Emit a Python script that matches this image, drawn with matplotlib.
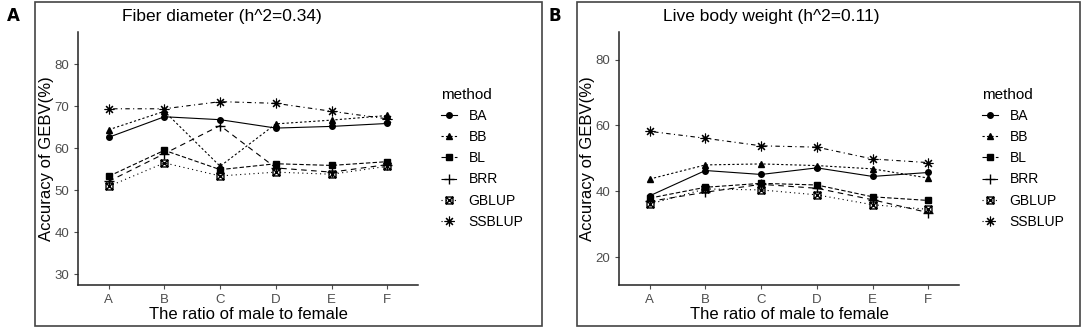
import matplotlib
matplotlib.use('Agg')
from matplotlib import pyplot as plt
from matplotlib.path import Path
from matplotlib.patches import Rectangle
from matplotlib.lines import Line2D

ratios = ['A', 'B', 'C', 'D', 'E', 'F']
methods = ['BA', 'BB', 'BL', 'BRR', 'GBLUP', 'SSBLUP']

fiber = {
    'BA': [62.6, 67.5, 66.8, 64.8, 65.2, 65.9],
    'BB': [64.4, 68.8, 55.7, 65.8, 66.7, 67.8],
    'BL': [53.3, 59.5, 54.9, 56.3, 55.9, 56.8],
    'BRR': [52.1, 58.7, 65.4, 55.3, 54.3, 56.1],
    'GBLUP': [50.9, 56.5, 53.4, 54.3, 53.8, 55.7],
    'SSBLUP': [69.4, 69.4, 71.1, 70.7, 68.8, 67.0],
}

weight = {
    'BA': [38.6, 46.3, 45.1, 47.1, 44.5, 45.7],
    'BB': [43.7, 48.0, 48.3, 47.8, 46.8, 44.0],
    'BL': [37.9, 41.2, 42.4, 41.9, 38.3, 37.2],
    'BRR': [36.9, 39.7, 42.1, 40.9, 37.4, 33.5],
    'GBLUP': [36.1, 40.7, 40.4, 38.9, 35.9, 34.5],
    'SSBLUP': [58.2, 56.1, 53.8, 53.4, 49.8, 48.7],
}

# square with a cross inside (ggplot shape 7)
sq_cross = Path(
    [(-1, -1), (1, -1), (1, 1), (-1, 1), (-1, -1), (-1, -1), (1, 1), (-1, 1), (1, -1)],
    [Path.MOVETO, Path.LINETO, Path.LINETO, Path.LINETO, Path.CLOSEPOLY,
     Path.MOVETO, Path.LINETO, Path.MOVETO, Path.LINETO])

styles = {
    'BA': dict(ls='-', marker='o', ms=4),
    'BB': dict(dashes=(2, 2), marker='^', ms=4.5),
    'BL': dict(dashes=(4, 2), marker='s', ms=4),
    'BRR': dict(dashes=(5, 4), marker='+', ms=7, mew=1.0),
    'GBLUP': dict(dashes=(1, 3), marker=sq_cross, ms=5, mfc='none', mew=1.0),
    'SSBLUP': dict(dashes=(1, 3, 4, 3), marker=(8, 2, 0), ms=7, mew=0.8),
}

W, H = 1084, 328
fig = plt.figure(figsize=(W / 100, H / 100), dpi=100)
plt.rcParams['font.family'] = ['Liberation Sans', 'DejaVu Sans']


def px(x0, y0, x1, y1):
    return [x0 / W, 1 - y1 / H, (x1 - x0) / W, (y1 - y0) / H]


def panel(data, frame_x, ax_x, title, ylim, yticks, letter):
    fig.patches.append(Rectangle((frame_x[0] / W, 1 - 326 / H), (frame_x[1] - frame_x[0]) / W,
                                 324 / H, transform=fig.transFigure, fill=False,
                                 edgecolor='#444444', lw=1.2))
    fig.text((frame_x[0] - 28) / W, 1 - 16 / H, letter, fontsize=12, fontweight='bold',
             va='center', ha='left', family='DejaVu Sans')
    ax = fig.add_axes(px(ax_x, 32, ax_x + 340, 285))
    for m in methods:
        ax.plot(ratios, data[m], color='black', lw=0.8, label=m, **styles[m])
    ax.set_xlim(-0.55, 5.55)
    ax.set_ylim(*ylim)
    ax.set_yticks(yticks)
    for s in ['top', 'right']:
        ax.spines[s].set_visible(False)
    for s in ['left', 'bottom']:
        ax.spines[s].set_color('#222222')
        ax.spines[s].set_linewidth(1.1)
    ax.tick_params(colors='#4d4d4d', labelsize=9.5, length=3, width=0.8)
    ax.set_xlabel('The ratio of male to female', fontsize=12, labelpad=1)
    ax.set_ylabel('Accuracy of GEBV(%)', fontsize=12, labelpad=0)
    fig.text((ax_x + 44) / W, 1 - 17 / H, title, fontsize=12.5, va='center', ha='left')
    handles = [Line2D([0], [0], color='black', lw=0.8, **styles[m]) for m in methods]
    ax.legend(handles, methods, title='method', loc='upper left',
              bbox_to_anchor=(1.03, 0.83), frameon=False, fontsize=10,
              title_fontsize=11, handlelength=1.2, labelspacing=0.52,
              handletextpad=0.8, alignment='left')
    return ax


panel(fiber, (35, 542), 78, 'Fiber diameter (h^2=0.34)', (27.4, 87.7),
      [30, 40, 50, 60, 70, 80], 'A')
panel(weight, (577, 1080), 619, 'Live body weight (h^2=0.11)', (11.5, 88.4),
      [20, 40, 60, 80], 'B')

fig.savefig('out.png', dpi=100)
